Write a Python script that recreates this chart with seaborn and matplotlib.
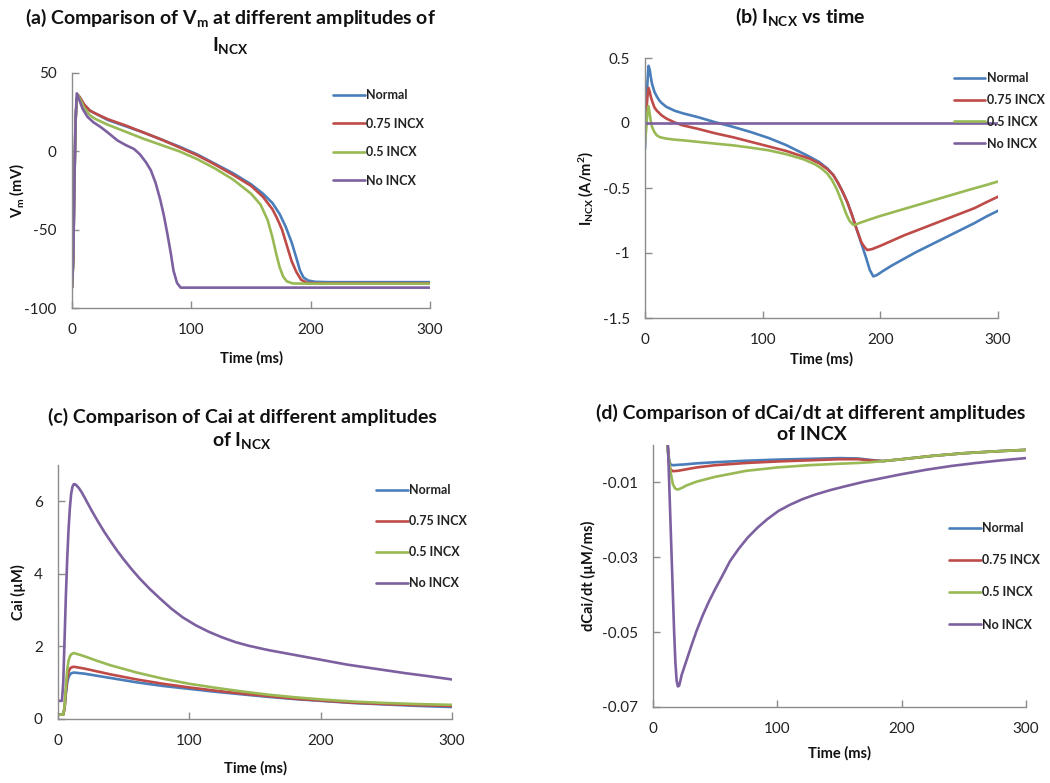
import pandas as pd
import matplotlib
matplotlib.use("Agg")
import matplotlib.pyplot as plt
import seaborn as sns

sns.set_theme(style="white")
plt.rcParams["font.family"] = ["Lato", "DejaVu Sans"]
plt.rcParams["mathtext.fontset"] = "custom"
plt.rcParams["mathtext.rm"] = "Lato"
plt.rcParams["mathtext.bf"] = "Lato:bold"
plt.rcParams["mathtext.it"] = "Lato:italic"
plt.rcParams["axes.unicode_minus"] = False

series = ["Normal", "0.75 INCX", "0.5 INCX", "No INCX"]
colors = ["#4A7EBB", "#BE4B48", "#98B954", "#7D60A0"]
x_ticks = [0, 100, 200, 300]

# --- (a) membrane potential Vm (mV) ---
t_a_norm = [0, 1, 2, 3, 4, 5, 7, 10, 15, 20, 30, 45, 60, 75, 90, 105, 120, 135, 150, 160, 168,
            174, 179, 184, 188, 191, 194, 198, 204, 215, 240, 300]
v_a_norm = [-87, -70, -20, 20, 33, 36, 34, 30, 26, 24, 20, 16, 12, 7.5, 3, -2, -8, -14, -21, -27, -33,
            -40, -48, -58, -68, -76, -80.5, -82.5, -83.3, -83.5, -83.5, -83.5]
t_a_075 = [0, 1, 2, 3, 4, 5, 7, 10, 15, 20, 30, 45, 60, 75, 90, 105, 120, 135, 150, 160, 168,
           172, 176, 180, 184, 188, 192, 197, 205, 240, 300]
v_a_075 = [-87, -70, -20, 20, 33, 36, 34, 30, 26, 24, 20.5, 16.5, 12, 7.5, 2.5, -2.5, -8.5, -15, -22, -29, -37,
           -43, -50, -60, -70, -77, -82, -84, -84.2, -84.2, -84.2]
t_a_05 = [0, 1, 2, 3, 4, 5, 7, 10, 15, 20, 30, 45, 60, 75, 90, 105, 120, 135, 150, 158, 164,
          168, 171, 174, 177, 180, 185, 200, 300]
v_a_05 = [-87, -70, -20, 20, 33, 36, 33, 28, 23, 20.5, 17, 12.5, 8, 4, 0, -5, -11, -18, -27, -34, -44,
          -55, -65, -74, -80, -83, -84.3, -84.5, -84.5]
t_a_no = [0, 1, 2, 3, 4, 6, 9, 13, 18, 24, 30, 38, 45, 52, 57, 62, 66, 70, 74, 77, 80, 83, 85, 88,
          91, 95, 300]
v_a_no = [-87, -70, -20, 20, 37, 33, 27, 22, 18.5, 15.5, 12, 7, 4, 1.5, -2, -7, -12, -20, -31, -41,
          -53, -66, -76, -84, -87, -87, -87]

# --- (b) INCX (A/m^2) ---
t_b_norm = [0, 1, 2, 3, 4, 5, 6, 7, 8, 10, 12, 14, 18, 25, 32, 45, 60, 75, 90, 105, 120, 130, 140,
            148, 155, 160, 164, 168, 172, 176, 180, 184, 188, 191, 194, 197, 202, 210, 220, 230, 240,
            250, 260, 270, 280, 290, 300]
i_b_norm = [-0.2, 0.05, 0.3, 0.44, 0.41, 0.35, 0.30, 0.27, 0.24, 0.205, 0.175, 0.155, 0.125, 0.095,
            0.075, 0.045, 0.005, -0.03, -0.07, -0.115, -0.17, -0.215, -0.26, -0.30, -0.35, -0.40,
            -0.46, -0.53, -0.61, -0.71, -0.82, -0.93, -1.04, -1.13, -1.18, -1.17, -1.14, -1.095,
            -1.045, -0.995, -0.95, -0.905, -0.86, -0.815, -0.77, -0.72, -0.675]
t_b_075 = [0, 1, 2, 3, 4, 5, 6, 8, 10, 14, 18, 25, 32, 45, 60, 75, 90, 105, 120, 130, 140, 148,
           155, 160, 164, 168, 172, 176, 180, 184, 187, 189, 193, 200, 210, 220, 230, 240, 250, 260,
           270, 280, 290, 300]
i_b_075 = [-0.1, 0.05, 0.2, 0.27, 0.24, 0.2, 0.17, 0.12, 0.095, 0.06, 0.035, 0.005, -0.018, -0.045,
           -0.08, -0.11, -0.145, -0.18, -0.215, -0.245, -0.275, -0.31, -0.355, -0.40, -0.46, -0.53,
           -0.61, -0.71, -0.82, -0.92, -0.96, -0.977, -0.97, -0.945, -0.905, -0.865, -0.83, -0.795,
           -0.76, -0.725, -0.69, -0.655, -0.61, -0.567]
t_b_05 = [0, 1, 2, 3, 4, 5, 6, 8, 10, 13, 18, 25, 32, 45, 60, 75, 90, 105, 120, 135, 145, 150, 155,
          159, 163, 167, 171, 174, 177, 178, 182, 190, 200, 215, 230, 245, 260, 275, 290, 300]
i_b_05 = [-0.15, -0.05, 0.08, 0.13, 0.07, 0.01, -0.03, -0.07, -0.095, -0.11, -0.12, -0.128, -0.133,
          -0.145, -0.159, -0.172, -0.19, -0.21, -0.24, -0.28, -0.32, -0.35, -0.39, -0.44, -0.51,
          -0.60, -0.70, -0.755, -0.783, -0.785, -0.77, -0.745, -0.715, -0.675, -0.635, -0.595,
          -0.555, -0.515, -0.477, -0.45]
t_b_no = [0, 100, 200, 300]
i_b_no = [0, 0, 0, 0]

# --- (c) Cai (uM) ---
t_c = [0, 4, 5, 6, 7, 8, 9, 10, 12, 20, 30, 40, 50, 60, 80, 100, 120, 140, 160, 180, 200, 225, 250,
       275, 300]
c_norm = [0.12, 0.12, 0.3, 0.7, 1.0, 1.15, 1.22, 1.26, 1.28, 1.25, 1.19, 1.13, 1.07, 1.01, 0.91, 0.83,
          0.75, 0.68, 0.61, 0.55, 0.50, 0.44, 0.40, 0.36, 0.33]
c_075 = [0.12, 0.12, 0.3, 0.75, 1.1, 1.3, 1.38, 1.42, 1.44, 1.39, 1.31, 1.23, 1.16, 1.09, 0.97, 0.87,
         0.78, 0.70, 0.63, 0.56, 0.51, 0.45, 0.41, 0.38, 0.36]
c_05 = [0.12, 0.12, 0.35, 0.9, 1.35, 1.6, 1.72, 1.78, 1.82, 1.73, 1.60, 1.48, 1.38, 1.28, 1.11, 0.97,
        0.86, 0.76, 0.67, 0.60, 0.54, 0.48, 0.44, 0.41, 0.39]
t_c_no = [0, 3, 4, 5, 6, 7, 8, 9, 10, 11, 12, 13, 14, 16, 18, 20, 23, 26, 30, 35, 40, 45, 50, 56,
          62, 70, 78, 86, 95, 105, 115, 125, 135, 145, 160, 175, 190, 205, 220, 235, 250, 265, 280,
          300]
c_no = [0.5, 0.5, 1.0, 2.2, 3.4, 4.4, 5.2, 5.8, 6.2, 6.4, 6.47, 6.47, 6.44, 6.36, 6.25, 6.12, 5.92,
        5.72, 5.47, 5.17, 4.9, 4.64, 4.4, 4.13, 3.88, 3.58, 3.31, 3.05, 2.8, 2.58, 2.4, 2.25, 2.12,
        2.02, 1.9, 1.8, 1.7, 1.6, 1.5, 1.42, 1.34, 1.26, 1.19, 1.09]

# --- (d) dCai/dt (uM/ms) ---
t_d = [11, 12, 13, 14, 16, 20, 25, 35, 50, 75, 100, 125, 150, 165, 175, 185, 200, 225, 250, 275, 300]
d_norm = [0.002, -0.001, -0.004, -0.0052, -0.0054, -0.0053, -0.0052, -0.0049, -0.0046, -0.0042,
          -0.0039, -0.0037, -0.0035, -0.0036, -0.0040, -0.0043, -0.0038, -0.0029, -0.0022, -0.0017,
          -0.0013]
d_075 = [0.002, -0.001, -0.005, -0.0065, -0.0070, -0.0069, -0.0066, -0.0060, -0.0054, -0.0048,
         -0.0044, -0.0041, -0.0038, -0.0038, -0.0041, -0.0043, -0.0038, -0.0029, -0.0022, -0.0017,
         -0.0013]
t_d_05 = [11, 12, 14, 16, 18, 20, 23, 27, 35, 50, 75, 100, 125, 150, 165, 175, 185, 200, 225, 250,
          275, 300]
d_05 = [0.002, -0.002, -0.007, -0.0105, -0.0117, -0.0119, -0.0115, -0.0108, -0.0098, -0.0085, -0.0069,
        -0.0060, -0.0054, -0.0050, -0.0048, -0.0046, -0.0043, -0.0038, -0.0029, -0.0022, -0.0017,
        -0.0013]
t_d_no = [11, 12, 13, 14, 15, 16, 17, 18, 19, 20, 21, 22, 23, 25, 28, 31, 35, 40, 45, 50, 56, 62,
          69, 76, 84, 92, 101, 110, 120, 130, 142, 155, 170, 185, 200, 220, 240, 260, 280, 300]
d_no = [0.002, 0.0, -0.01, -0.02, -0.03, -0.04, -0.05, -0.058, -0.063, -0.0645, -0.0643, -0.063,
        -0.0615, -0.0595, -0.0565, -0.0535, -0.0497, -0.0455, -0.0418, -0.0385, -0.0348, -0.031,
        -0.0277, -0.0248, -0.0221, -0.0198, -0.0176, -0.016, -0.0145, -0.0133, -0.0121, -0.011,
        -0.0098, -0.0088, -0.0078, -0.0066, -0.0056, -0.0048, -0.0041, -0.0035]


def long_df(ts, vs):
    parts = [pd.DataFrame({"t": t, "y": v, "series": s}) for s, t, v in zip(series, ts, vs)]
    return pd.concat(parts, ignore_index=True)


W, H = 1050, 783
fig = plt.figure(figsize=(W / 100, H / 100), dpi=100)


def px_axes(left, top, right, bottom):
    ax = fig.add_axes([left / W, 1 - bottom / H, (right - left) / W, (bottom - top) / H])
    ax.px_box = (left, top, right, bottom)
    return ax


def px_text(x, y, s, **kw):
    fig.text(x / W, 1 - y / H, s, ha="center", va="center", fontsize=14,
             fontweight="bold", color="#111111", **kw)


def draw(ax, df, ylim, yticks, yticklabels, ylabel, ylabel_x, xlabel_y, legend_xy, spacing):
    left, top, right, bottom = ax.px_box
    sns.lineplot(data=df, x="t", y="y", hue="series", hue_order=series, palette=colors,
                 estimator=None, sort=False, linewidth=1.9, ax=ax)
    ax.set_xlim(0, 300)
    ax.set_ylim(*ylim)
    ax.set_xticks(x_ticks)
    ax.set_yticks(yticks)
    ax.set_yticklabels(yticklabels)
    for side in ["top", "right"]:
        ax.spines[side].set_visible(False)
    for side in ["left", "bottom"]:
        ax.spines[side].set_color("#8C8C8C")
        ax.spines[side].set_linewidth(1.0)
    ax.tick_params(direction="in", length=5, width=1, color="#8C8C8C", pad=11,
                   labelsize=11, labelcolor="#222222", left=True, bottom=True)
    ax.set_xlabel("Time (ms)", fontsize=10.5, fontweight="bold", color="#111111")
    ax.set_ylabel(ylabel, fontsize=10.5, fontweight="bold", color="#111111")
    ax.yaxis.set_label_coords((ylabel_x - left) / (right - left), 0.5)
    ax.xaxis.set_label_coords(0.5, (bottom - xlabel_y) / (bottom - top))
    sns.move_legend(ax, "upper left", bbox_to_anchor=(legend_xy[0] / W, 1 - legend_xy[1] / H),
                    bbox_transform=fig.transFigure, title="", frameon=False, borderpad=0,
                    handlelength=2.5, handletextpad=0.15, labelspacing=spacing,
                    prop={"weight": "bold", "size": 9})
    for h in ax.get_legend().legend_handles:
        h.set_linewidth(1.9)
    for txt in ax.get_legend().get_texts():
        txt.set_color("#222222")


ax_a = px_axes(72, 73, 430, 308)
draw(ax_a, long_df([t_a_norm, t_a_075, t_a_05, t_a_no], [v_a_norm, v_a_075, v_a_05, v_a_no]),
     (-100, 50), [-100, -50, 0, 50], ["-100", "-50", "0", "50"], r"V$_\mathbf{m}$ (mV)",
     26, 351, (327, 83), 1.32)

ax_b = px_axes(645, 58, 998, 318)
draw(ax_b, long_df([t_b_norm, t_b_075, t_b_05, t_b_no], [i_b_norm, i_b_075, i_b_05, i_b_no]),
     (-1.5, 0.5), [-1.5, -1, -0.5, 0, 0.5], ["-1.5", "-1", "-0.5", "0", "0.5"],
     r"I$_\mathbf{NCX}$ (A/m$^\mathbf{2}$)", 596, 352, (948, 66), 0.78)

ax_c = px_axes(58, 465, 452, 719)
draw(ax_c, long_df([t_c, t_c, t_c, t_c_no], [c_norm, c_075, c_05, c_no]),
     (0, 7), [0, 2, 4, 6], ["0", "2", "4", "6"], "Cai (\u00b5M)", 26, 761, (370, 478), 1.52)

ax_d = px_axes(653, 445, 1026, 707)
draw(ax_d, long_df([t_d, t_d, t_d_05, t_d_no], [d_norm, d_075, d_05, d_no]),
     (-0.07, 0.0), [-0.07, -0.05, -0.03, -0.01], ["-0.07", "-0.05", "-0.03", "-0.01"],
     "dCai/dt (\u00b5M/ms)", 596, 746, (943, 516), 1.61)

px_text(231, 18, r"(a) Comparison of V$_\mathbf{m}$ at different amplitudes of")
px_text(230, 45, r"I$_\mathbf{NCX}$")
px_text(800, 17, r"(b) I$_\mathbf{NCX}$ vs time")
px_text(242, 417, "(c) Comparison of Cai at different amplitudes")
px_text(242, 440, r"of I$_\mathbf{NCX}$")
px_text(811, 413, "(d) Comparison of dCai/dt at different amplitudes")
px_text(812, 435, "of INCX")

fig.savefig("out.png", dpi=100, facecolor="white")
